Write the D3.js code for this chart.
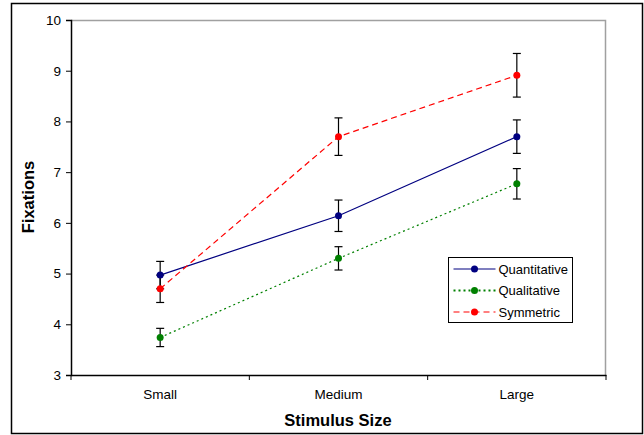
<!DOCTYPE html>
<html>
<head>
<meta charset="utf-8">
<script src="https://cdn.jsdelivr.net/npm/d3@7"></script>
<style>
  body { margin: 0; background: #fff; }
  text { font-family: "Liberation Sans", Arial, sans-serif; fill: #000; }
</style>
</head>
<body>
<svg width="644" height="435"></svg>
<script>
// Data
const categories = ["Small", "Medium", "Large"];
const quantitative = [4.97, 6.14, 7.70];
const quantitativeErr = [0.27, 0.31, 0.33];
const qualitative = [3.74, 5.30, 6.77];
const qualitativeErr = [0.18, 0.23, 0.30];
const symmetric = [4.70, 7.70, 8.91];
const symmetricErr = [0.27, 0.37, 0.43];
const yTicks = [3, 4, 5, 6, 7, 8, 9, 10];

const series = [
  { name: "Quantitative", values: quantitative, err: quantitativeErr, color: "#000080", dash: null },
  { name: "Qualitative", values: qualitative, err: qualitativeErr, color: "#008000", dash: "2,3" },
  { name: "Symmetric", values: symmetric, err: symmetricErr, color: "#ff0000", dash: "6,4" }
];

const svg = d3.select("svg");

// outer chart border
svg.append("rect")
  .attr("x", 11.5).attr("y", 3.5)
  .attr("width", 631).attr("height", 430)
  .attr("fill", "none").attr("stroke", "#000").attr("stroke-width", 1.5);

const plot = { left: 71, top: 20, right: 606, bottom: 375 };

const x = d3.scaleBand().domain(categories).range([plot.left, plot.right]);
const y = d3.scaleLinear().domain([3, 10]).range([plot.bottom, plot.top]);

// plot area frame (grey top/right)
svg.append("path")
  .attr("d", `M${plot.left},${plot.top + 0.5}H${plot.right - 0.5}V${plot.bottom}`)
  .attr("fill", "none").attr("stroke", "#a0a0a0").attr("stroke-width", 1.5);

// y axis
const yAxis = svg.append("g")
  .attr("transform", `translate(${plot.left},0)`)
  .call(d3.axisLeft(y).tickValues(yTicks).tickFormat(d3.format("d")).tickSize(5).tickPadding(5));
yAxis.select(".domain").attr("stroke-width", 1.5);
yAxis.selectAll("text").style("font-size", "13.5px").attr("fill", "#000");

// x axis, ticks at band boundaries
const xAxis = svg.append("g")
  .attr("transform", `translate(0,${plot.bottom})`)
  .call(d3.axisBottom(x).tickSize(0).tickPadding(14));
xAxis.select(".domain").attr("stroke-width", 1.5);
xAxis.selectAll("text").style("font-size", "13.5px").attr("fill", "#000");
xAxis.selectAll(".bound")
  .data(categories.map(c => x(c)).concat([plot.right]))
  .enter().append("line")
  .attr("x1", d => d).attr("x2", d => d)
  .attr("y1", 0).attr("y2", 5)
  .attr("stroke", "#000");

// axis titles
svg.append("text")
  .attr("transform", "translate(34,197) rotate(-90)")
  .attr("text-anchor", "middle")
  .style("font-size", "16.5px").style("font-weight", "bold")
  .text("Fixations");
svg.append("text")
  .attr("x", 338).attr("y", 426)
  .attr("text-anchor", "middle")
  .style("font-size", "16.5px").style("font-weight", "bold")
  .text("Stimulus Size");

const cx = c => x(c) + x.bandwidth() / 2;
const line = d3.line().x(d => cx(d.c)).y(d => y(d.v));

// series lines
series.forEach(s => {
  const pts = categories.map((c, i) => ({ c: c, v: s.values[i] }));
  svg.append("path")
    .datum(pts)
    .attr("d", line)
    .attr("fill", "none")
    .attr("stroke", s.color)
    .attr("stroke-width", 1.2)
    .attr("stroke-dasharray", s.dash);
});

// error bars
series.forEach(s => {
  const g = svg.append("g");
  categories.forEach((c, i) => {
    const hi = y(s.values[i] + s.err[i]);
    const lo = y(s.values[i] - s.err[i]);
    const xc = cx(c);
    g.append("line").attr("x1", xc).attr("x2", xc).attr("y1", hi).attr("y2", lo)
      .attr("stroke", "#000").attr("stroke-width", 1.2);
    [hi, lo].forEach(yy => {
      g.append("line").attr("x1", xc - 4).attr("x2", xc + 4).attr("y1", yy).attr("y2", yy)
        .attr("stroke", "#000").attr("stroke-width", 1.2);
    });
  });
});

// markers
series.forEach(s => {
  svg.append("g").selectAll("circle")
    .data(categories.map((c, i) => ({ c: c, v: s.values[i] })))
    .enter().append("circle")
    .attr("cx", d => cx(d.c)).attr("cy", d => y(d.v))
    .attr("r", 3.5).attr("fill", s.color);
});

// legend
const legend = svg.append("g").attr("transform", "translate(448.5,257.5)");
legend.append("rect")
  .attr("width", 124).attr("height", 65)
  .attr("fill", "#fff").attr("stroke", "#000");
series.forEach((s, i) => {
  const ly = 11.5 + i * 21.5;
  legend.append("line")
    .attr("x1", 5).attr("x2", 47).attr("y1", ly).attr("y2", ly)
    .attr("stroke", s.color).attr("stroke-width", s.dash === "2,3" ? 2 : 1.2)
    .attr("stroke-dasharray", s.dash);
  legend.append("circle").attr("cx", 26).attr("cy", ly).attr("r", 3.5).attr("fill", s.color);
  legend.append("text")
    .attr("x", 50).attr("y", ly + 4.5)
    .style("font-size", "13px")
    .text(s.name);
});
</script>
</body>
</html>
